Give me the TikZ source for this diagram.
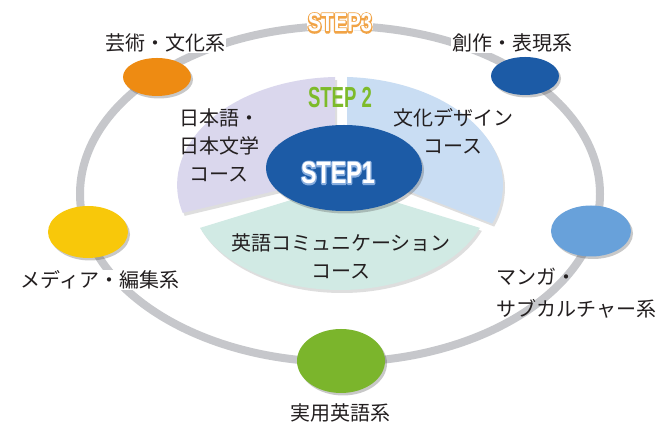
\documentclass[tikz,border=0pt]{standalone}
\usepackage{fontspec}
\usepackage{graphicx}
\usetikzlibrary{shapes.geometric,shadows,calc}
\setmainfont{Liberation Sans}
\newfontfamily\jpfont{Noto Sans CJK JP}
\definecolor{ringgray}{HTML}{C6C7CB}
\definecolor{lavsec}{HTML}{DAD7ED}
\definecolor{bluesec}{HTML}{C9DDF3}
\definecolor{mintsec}{HTML}{D1EAE4}
\definecolor{navy}{HTML}{1C5BA6}
\definecolor{skyblue}{HTML}{68A1DA}
\definecolor{orangeA}{HTML}{EE8B12}
\definecolor{yellowA}{HTML}{F8C80A}
\definecolor{greenA}{HTML}{7BB52C}
\definecolor{stepgreen}{HTML}{7DBB2A}
\definecolor{labeltext}{HTML}{231F20}
% outline behind the text: a stroked copy (fill+stroke in the outline colour) under a plain copy
\newcommand\outlinedtext[4]{% #1 outline RGB, #2 stroke width, #3 fill colour, #4 text
  \rlap{\special{pdf:literal direct 2 Tr #2 w 1 j #1 RG #1 rg}#4\special{pdf:literal direct 0 Tr 0 j}}%
  {\color{#3}#4}}
\tikzset{
  lbl/.style={font=\jpfont\fontsize{20}{28}\selectfont, text=labeltext, align=center, inner sep=1pt},
  lblbg/.style={lbl, fill=white},
  dotnode/.style={ellipse, inner sep=0pt,
    drop shadow={shadow xshift=2pt, shadow yshift=-2.5pt, opacity=0.3, fill=black!70}},
  sector/.style={drop shadow={shadow xshift=2pt, shadow yshift=-3pt, opacity=0.18, fill=black!70}},
  steptxt/.style={font=\bfseries, inner sep=0pt}
}
\begin{document}
\begin{tikzpicture}[x=1pt,y=1pt]
\useasboundingbox (0,0) rectangle (659,425);
\fill[white] (0,0) rectangle (659,425);
% outer ring
\draw[ringgray, line width=8pt] (340,231) ellipse [x radius=260pt, y radius=168pt];
% sectors
\fill[lavsec, sector] (335,348) arc[start angle=91.8, end angle=195, x radius=163pt, y radius=108pt]
  -- (300,240) -- (335,262) -- cycle;
\fill[bluesec, sector] (347,348) arc[start angle=87.54, end angle=-21, x radius=163pt, y radius=108pt]
  -- (380,245) -- (347,262) -- cycle;
\fill[mintsec, sector] (340,240) -- (200,197.1) arc[start angle=201.1, end angle=338.9, x radius=150pt, y radius=97pt] -- cycle;
% step 1 ellipse
\node[dotnode, fill=navy, minimum width=156pt, minimum height=86pt] (core) at (344,257) {};
% outer small ellipses
\node[dotnode, fill=orangeA, minimum width=68pt, minimum height=38pt] (art) at (157,348) {};
\node[dotnode, fill=navy, minimum width=68pt, minimum height=38pt] (create) at (525,349) {};
\node[dotnode, fill=yellowA, minimum width=80pt, minimum height=52pt] (media) at (88,193) {};
\node[dotnode, fill=skyblue, minimum width=80pt, minimum height=51pt] (manga) at (591,194) {};
\node[dotnode, fill=greenA, minimum width=88pt, minimum height=64pt] (eng) at (341,64) {};
% outer labels
\node[lblbg] (artl) at (165,382) {芸術・文化系};
\node[lblbg] (createl) at (512,382) {創作・表現系};
\node[lblbg] (medial) at (100,145) {メディア・編集系};
\node[lbl, anchor=west, align=left, font=\jpfont\fontsize{20}{32}\selectfont] (mangal) at (495,132) {マンガ・\\サブカルチャー系};
\node[lblbg] (engl) at (340,12) {実用英語系};
% inner labels
\node[lbl] (jpl) at (219,280) {日本語・\\日本文学\\コース};
\node[lbl] (cdl) at (453,294) {文化デザイン\\コース};
\node[lbl] (ecl) at (341,169) {英語コミュニケーション\\コース};
% STEP labels
\node[fill=white, minimum width=66pt, minimum height=14pt, inner sep=0pt] (s3bg) at (340,402) {};
\node[steptxt] (s3) at (340,402)
  {\fontsize{26}{26}\selectfont\scalebox{0.78}[1]{\outlinedtext{0.945 0.639 0.271}{3.2}{white}{STEP3}}};
\node[steptxt, text=stepgreen] (s2) at (340,327)
  {\fontsize{29}{29}\selectfont\scalebox{0.64}[1]{STEP 2}};
\node[steptxt] (s1) at (338,252)
  {\fontsize{31}{31}\selectfont\scalebox{0.75}[1]{\outlinedtext{0.53 0.68 0.87}{3.0}{white}{STEP1}}};
\end{tikzpicture}
\end{document}
